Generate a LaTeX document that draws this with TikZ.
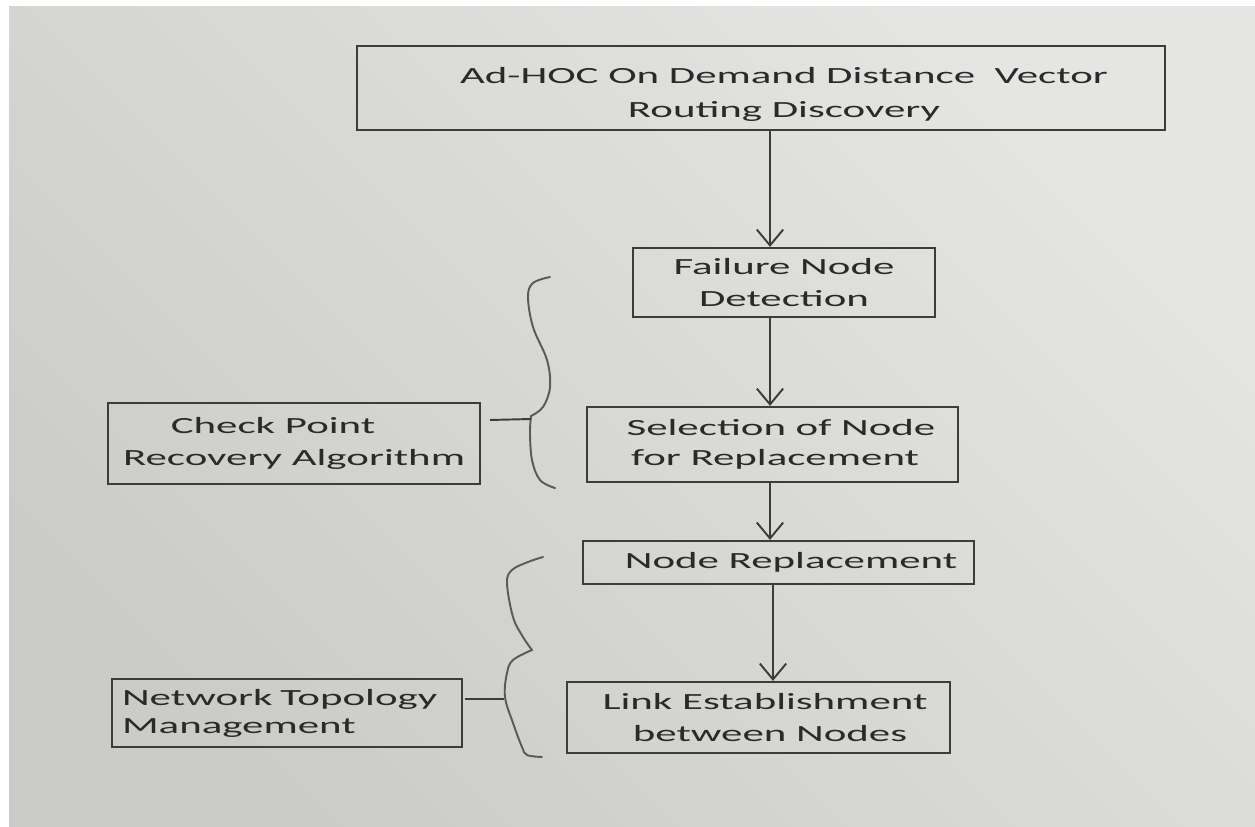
\documentclass[tikz,border=0pt]{standalone}
\usepackage{fontspec}
\setmainfont{Carlito}[FakeStretch=1.85]
\usetikzlibrary{arrows.meta}
\definecolor{ink}{HTML}{3C3C3C}
\definecolor{txt}{HTML}{2A2A2A}
\definecolor{bracecol}{HTML}{5A5A5A}
\definecolor{paperlight}{HTML}{E5E5E3}
\definecolor{paperdark}{HTML}{CBCBC7}
\begin{document}
\begin{tikzpicture}[x=0.02cm,y=-0.02cm,
  box/.style={draw=ink, line width=1.25pt, rectangle, inner sep=0pt, text=txt,
    font=\fontsize{13.2}{18.1}\selectfont, align=center},
  arr/.style={draw=ink, line width=1.1pt, -{Straight Barb[length=9pt,width=15pt]}},
  bracestroke/.style={draw=bracecol, line width=1.1pt, line cap=round, line join=round},
  tickline/.style={draw=ink, line width=1.1pt}]
\useasboundingbox (0,0) rectangle (1255,827);
\fill[white] (0,0) rectangle (1255,827);
\shade[top color=paperlight, bottom color=paperdark, shading angle=-45] (9,7) rectangle (1255,827);

% boxes
\node[box, minimum width=16.16cm, minimum height=1.68cm, font=\fontsize{13.2}{19.8}\selectfont]
  (top) at (761,88) {\rule{0.92cm}{0pt}\rule{0pt}{16.5pt}Ad-HOC On Demand Distance\ \ Vector\\\rule{0.92cm}{0pt}Routing Discovery};
\node[box, minimum width=6.04cm, minimum height=1.38cm] (fail) at (784,282.5) {Failure Node\\Detection};
\node[box, minimum width=7.42cm, minimum height=1.5cm, font=\fontsize{13.2}{17}\selectfont]
  (sel) at (772.5,444.5) {\rule{0.34cm}{0pt}Selection of Node\\\rule{0.1cm}{0pt}for Replacement};
\node[box, minimum width=7.44cm, minimum height=1.62cm] (chk) at (294,443.5) {Check Point\rule{0.84cm}{0pt}\\Recovery Algorithm};
\node[box, minimum width=7.82cm, minimum height=0.86cm] (nr) at (778.5,562.5) {\rule{0.5cm}{0pt}Node Replacement};
\node[box, minimum width=7.66cm, minimum height=1.42cm] (link) at (758.5,717.5) {\rule{0.26cm}{0pt}Link Establishment\\\rule{0.46cm}{0pt}between Nodes};
\node[box, minimum width=7.0cm, minimum height=1.36cm, text width=6.6cm, align=left, font=\fontsize{13.2}{16}\selectfont]
  (net) at (287,713) {Network Topology\\Management};

% arrows
\coordinate (ax) at (770,0);
\coordinate (ax2) at (773,0);
\draw[arr] (top.south -| ax) -- (fail.north -| ax);
\draw[arr] (fail.south -| ax) -- (sel.north -| ax);
\draw[arr] (sel.south -| ax) -- (nr.north -| ax);
\draw[arr] (nr.south -| ax2) -- (link.north -| ax2);

% brace 1
\coordinate (b1tip) at (531,419);
\coordinate (b1s) at (490,420);
\draw[bracestroke] plot[smooth, tension=0.6] coordinates {(550,277) (533,283) (528,297) (533,327) (547,360) (550,387) (543,407) (531,416)};
\draw[bracestroke] plot[smooth, tension=0.6] coordinates {(531,416) (530,433) (532,460) (540,480) (555,488)};
\draw[tickline] (b1s) -- (b1tip);

% brace 2
\coordinate (b2tip) at (504,699);
\coordinate (b2s) at (465,699);
\draw[bracestroke] plot[smooth, tension=0.6] coordinates {(543,557) (528,562) (512,570) (507,583) (513,617) (523,637) (532,650)};
\draw[bracestroke] plot[smooth, tension=0.6] coordinates {(532,650) (513,660) (507,673) (505,697) (513,723) (522,747) (527,755) (542,757)};
\draw[tickline] (b2s) -- (b2tip);
\end{tikzpicture}
\end{document}
